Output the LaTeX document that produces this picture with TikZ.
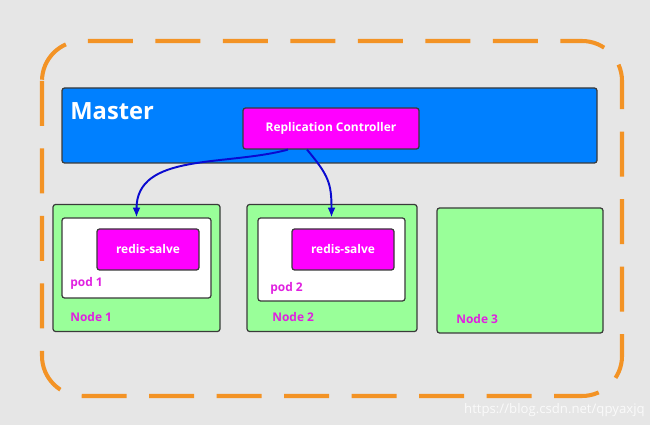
\documentclass[tikz,border=0pt]{standalone}
\usepackage{fontspec}
\setmainfont{Open Sans}
\usetikzlibrary{arrows.meta,positioning}
\definecolor{BgGray}{HTML}{E6E6E6}
\definecolor{FrameOrange}{HTML}{F39325}
\definecolor{MasterBlue}{HTML}{0080FF}
\definecolor{RcMagenta}{HTML}{FF00FF}
\definecolor{NodeGreen}{HTML}{99FF99}
\definecolor{LabelPink}{HTML}{E020E0}
\definecolor{EdgeGray}{HTML}{3A3A3A}
\definecolor{ArrowBlue}{HTML}{0A0AD0}

\begin{document}
\begin{tikzpicture}[
  font=\fontsize{6.8}{8}\selectfont\bfseries,
  >={Latex[length=5.5pt,width=4.5pt]},
  % generic outlined box
  box/.style={draw=EdgeGray, line width=0.7pt, rounded corners=1.5pt,
              inner sep=0pt, align=center},
  % master block
  mbox/.style={box, fill=MasterBlue, minimum width=10.7cm, minimum height=1.5cm},
  % magenta component (controller / container)
  cbox/.style={box, fill=RcMagenta, text=white},
  % worker node
  nbox/.style={box, fill=NodeGreen, minimum height=2.54cm},
  % pod
  pbox/.style={box, fill=white},
  % small magenta label
  lbl/.style={text=LabelPink, anchor=west, inner sep=0pt},
]

% ── Row y-positions ──────────────────────────────────────────────────────────
\def\yM{-2.51}   % master row
\def\yN{-5.36}   % node row
\def\yR{-4.99}   % redis row

%% ── Background and dashed cluster frame ───────────────────────────────────
\fill[BgGray] (0,0) rectangle (13,-8.5);
\draw[FrameOrange, line width=2.3pt, rounded corners=0.8cm,
      dash pattern=on 0.9cm off 0.45cm]
  (0.84,-0.82) rectangle (12.44,-7.92);

%% ── Master ────────────────────────────────────────────────────────────────
\node[mbox] (master) at (6.59, \yM) {};
\node[anchor=base west, inner sep=0pt, text=white,
      font=\fontsize{13.5}{15}\selectfont\bfseries] (mlbl) at (1.40,-2.40) {Master};
\node[cbox, minimum width=3.52cm, minimum height=0.82cm] (rc) at (6.62,-2.57)
  {Replication Controller};

%% ── Worker nodes ──────────────────────────────────────────────────────────
\node[nbox, minimum width=3.34cm] (node1) at (2.73, \yN) {};
\node[nbox, minimum width=3.40cm] (node2) at (6.64, \yN) {};
\node[nbox, minimum width=3.32cm, minimum height=2.50cm] (node3) at (10.40,-5.41) {};

%% ── Pods ──────────────────────────────────────────────────────────────────
\node[pbox, minimum width=2.98cm, minimum height=1.60cm] (pod1) at (2.73,-5.16) {};
\node[pbox, minimum width=2.94cm, minimum height=1.66cm] (pod2) at (6.63,-5.19) {};

%% ── Containers ────────────────────────────────────────────────────────────
\node[cbox, minimum width=2.04cm, minimum height=0.82cm] (redis1) at (2.96, \yR) {redis-salve};
\node[cbox, minimum width=2.04cm, minimum height=0.82cm] (redis2) at (6.86, \yR) {redis-salve};

%% ── Labels ────────────────────────────────────────────────────────────────
\node[lbl] (pod1lbl) at (1.40,-5.66) {pod 1};
\node[lbl] (pod2lbl) at (5.40,-5.76) {pod 2};
\node[lbl] (node1lbl) at (1.40,-6.34) {Node 1};
\node[lbl] (node2lbl) at (5.44,-6.34) {Node 2};
\node[lbl] (node3lbl) at (9.12,-6.38) {Node 3};

%% ── Replication arrows ────────────────────────────────────────────────────
\draw[->, ArrowBlue, line width=1.1pt]
  ([xshift=-0.86cm]rc.south) to[out=-165, in=90] (pod1.north);
\draw[->, ArrowBlue, line width=1.1pt]
  ([xshift=-0.48cm]rc.south) to[out=-50, in=90, looseness=1.2] (pod2.north);

%% ── Watermark ─────────────────────────────────────────────────────────────
\node[anchor=east, inner sep=0pt, text=white, opacity=0.8,
      font=\fontsize{7.5}{9}\selectfont] (wm) at (12.90,-8.20)
  {https://blog.csdn.net/qpyaxjq};

\end{tikzpicture}
\end{document}
